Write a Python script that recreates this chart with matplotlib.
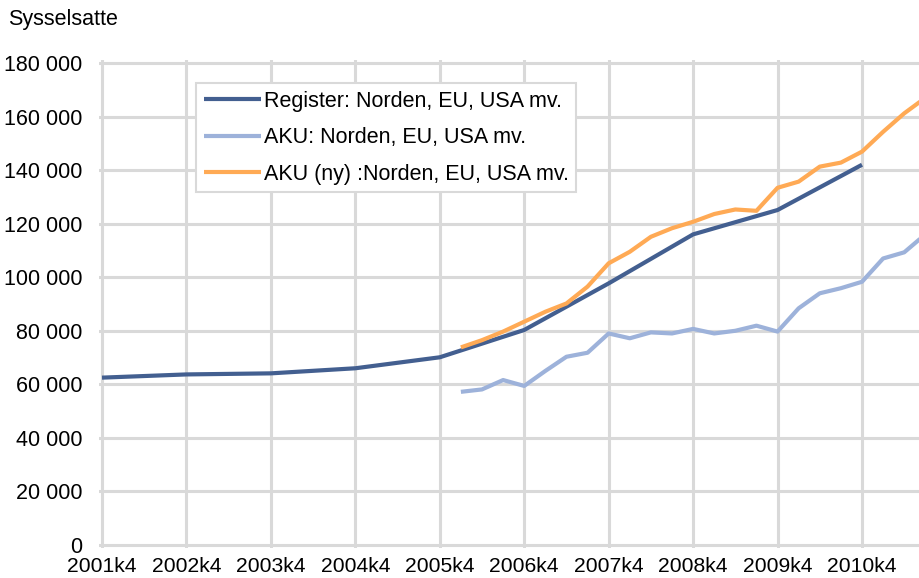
import numpy as np
import matplotlib.pyplot as plt

plt.rcParams['font.family'] = ['Liberation Sans', 'DejaVu Sans']

# quarter index 0 = 2001k4
tick_labels = ["2001k4", "2002k4", "2003k4", "2004k4", "2005k4",
               "2006k4", "2007k4", "2008k4", "2009k4", "2010k4"]
tick_pos = [0, 4, 8, 12, 16, 20, 24, 28, 32, 36]

register_q = [0, 4, 8, 12, 16, 20, 24, 28, 32, 36]
register = [62500, 63700, 64100, 66000, 70100, 80300, 97700, 116000, 125100, 142000]

aku_q = list(range(17, 40))
aku = [57200, 58100, 61600, 59400, 65000, 70300, 71800, 79000, 77200, 79400,
       79000, 80700, 79000, 80000, 81900, 79700, 88400, 94000, 95900, 98300,
       107000, 109300, 116000]

aku_ny_q = list(range(17, 40))
aku_ny = [73800, 76500, 79700, 83400, 87100, 90200, 96500, 105200, 109500, 115100,
          118300, 120700, 123600, 125300, 124800, 133400, 135700, 141300, 142800,
          146900, 154300, 161200, 167000]

W, H = 919, 578
fig = plt.figure(figsize=(W / 100, H / 100), dpi=100)

# axes placed in pixel terms: x 0 -> 102px, 36 -> 862px; y 0 -> 545px, 180000 -> 63px
qpx = (862 - 102) / 36
ypx = (545 - 63) / 180000
x0, x1 = -0.15, (W - 102) / qpx
y0, y1 = -1200, 181200
left = 102 + x0 * qpx
bottom = 545 - y0 * ypx
top = 545 - y1 * ypx
ax = fig.add_axes([left / W, 1 - bottom / H, (W - left) / W, (bottom - top) / H])

lw = 3.0
ax.plot(register_q, register, color='#435f90', lw=lw, solid_capstyle='butt',
        label='Register: Norden, EU, USA mv.', zorder=3)
ax.plot(aku_q, aku, color='#9db2da', lw=lw, solid_capstyle='butt',
        label='AKU: Norden, EU, USA mv.', zorder=3)
ax.plot(aku_ny_q, aku_ny, color='#ffaa55', lw=lw, solid_capstyle='butt',
        label='AKU (ny) :Norden, EU, USA mv.', zorder=3)

ax.set_xlim(x0, x1)
ax.set_ylim(y0, y1)
ax.set_xticks(tick_pos)
ax.set_xticklabels(tick_labels)
yt = np.arange(0, 180001, 20000)
ax.set_yticks(yt)
ax.set_yticklabels([f"{v:,}".replace(",", " ") for v in yt])

ax.grid(True, color='#d9d9d9', lw=2.2)
ax.set_axisbelow(True)
for s in ax.spines.values():
    s.set_visible(False)
ax.tick_params(length=0, colors='black')
ax.tick_params(axis='y', pad=12, labelsize=15.5)
ax.tick_params(axis='x', pad=6.5, labelsize=15.2)

ax.text(8 / W, 1 - 20 / H, "Sysselsatte", transform=fig.transFigure,
        fontsize=15.5, va='center', ha='left')

leg = ax.legend(loc='upper left', bbox_to_anchor=(196 / W, 1 - 83 / H),
                bbox_transform=fig.transFigure, fontsize=15.5, frameon=True,
                fancybox=False, edgecolor='#d9d9d9', framealpha=1,
                handlelength=2.65, handletextpad=0.14, labelspacing=0.72,
                borderpad=0.35, borderaxespad=0)
leg.get_frame().set_linewidth(1.5)

fig.savefig("out.png", dpi=100)
